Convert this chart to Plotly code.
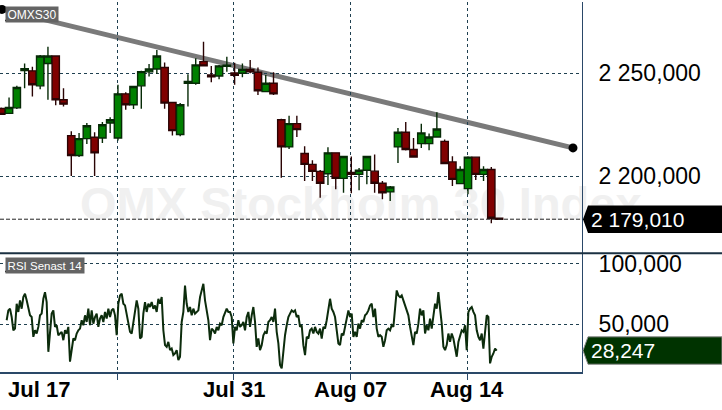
import numpy as np
import plotly.graph_objects as go

# ---------------- data ----------------
candle_idx = list(range(1, 66))
opens = [2232900, 2230500, 2233200, 2251300, 2251200, 2243900, 2254800, 2258400, 2237100, 2219700,
         2210000, 2218200, 2218900, 2218500, 2225800, 2218500, 2240000, 2234700, 2243900, 2250700,
         2252100, 2252800, 2235800, 2220200, 2245200, 2245200, 2255700, 2249200, 2248700, 2253400,
         2250200, 2250000, 2251900, 2250500, 2241100, 2245200, 2227400, 2214200, 2225500, 2211000,
         2205700, 2202300, 2201100, 2211300, 2198900, 2201800, 2200800, 2202800, 2202400, 2196500,
         2192300, 2214200, 2221300, 2212900, 2215800, 2215800, 2219000, 2216900, 2206900, 2196300,
         2193900, 2209200, 2200800, 2203200, 2179500]
highs = [2233400, 2238200, 2244000, 2254800, 2253200, 2258900, 2262900, 2258600, 2242700, 2221800,
         2221000, 2225800, 2221300, 2226300, 2228600, 2244400, 2240800, 2243600, 2251200, 2254500,
         2261300, 2255300, 2235800, 2235500, 2249500, 2257300, 2265300, 2253600, 2254100, 2258100,
         2255200, 2254800, 2256500, 2252800, 2249200, 2250500, 2227900, 2229400, 2229400, 2214500,
         2207700, 2202900, 2214000, 2211300, 2209500, 2209500, 2203900, 2209500, 2210500, 2197600,
         2195200, 2223400, 2226300, 2218500, 2225500, 2220700, 2231000, 2217800, 2209700, 2204800,
         2209700, 2209200, 2204800, 2204400, 2179600]
lows = [2229800, 2230200, 2232600, 2242700, 2238700, 2242300, 2237100, 2234400, 2233900, 2200000,
        2209300, 2215600, 2200000, 2216100, 2221000, 2217300, 2232300, 2232600, 2232800, 2248400,
        2249700, 2232800, 2219800, 2219400, 2233900, 2244400, 2253600, 2245600, 2247100, 2250800,
        2244400, 2248100, 2250000, 2239500, 2240800, 2239500, 2199200, 2213200, 2219000, 2197600,
        2197600, 2189500, 2195600, 2193600, 2191900, 2191600, 2193100, 2196000, 2191900, 2188700,
        2187900, 2206400, 2212400, 2208900, 2213700, 2212600, 2219000, 2205700, 2195200, 2196300,
        2191100, 2198100, 2197600, 2177100, 2178700]
closes = [2230000, 2233400, 2243100, 2252300, 2244400, 2258400, 2258400, 2237100, 2235000, 2210000,
          2218200, 2224500, 2211300, 2225000, 2227400, 2240000, 2234700, 2243600, 2250800, 2252100,
          2258400, 2235500, 2222100, 2234700, 2246000, 2254100, 2253600, 2248300, 2253600, 2253900,
          2249000, 2251900, 2250700, 2241500, 2245200, 2240000, 2214200, 2225500, 2222600, 2205700,
          2202300, 2196500, 2211300, 2198900, 2209500, 2200800, 2202800, 2209500, 2196500, 2191900,
          2194700, 2221300, 2212900, 2209300, 2221000, 2219000, 2222900, 2206100, 2198400, 2203200,
          2209200, 2200800, 2203200, 2179500, 2179010]

# trend line end points (candle index, price)
trend_x = [1.09, 74.5]
trend_y = [2281100, 2213700]

# RSI (14) values, sampled along the session axis
rsi = [53.3, 61.5, 62.9, 56.0, 45.0, 46.4, 67.0, 60.2, 69.8, 62.9,
       72.5, 75.3, 69.8, 64.3, 57.4, 56.0, 39.6, 45.0, 42.3, 47.8,
       57.4, 58.8, 71.1, 76.6, 68.4, 27.2, 42.3, 58.8, 61.5, 47.8,
       49.2, 40.9, 42.3, 43.7, 36.8, 45.0, 42.3, 47.8, 19.0, 28.6,
       38.2, 36.8, 42.3, 45.0, 46.4, 53.3, 49.2, 57.4, 51.9, 62.9,
       49.2, 61.5, 50.5, 56.0, 58.8, 47.8, 54.7, 57.4, 51.9, 60.2,
       54.7, 62.9, 56.0, 61.5, 62.9, 57.4, 40.9, 67.0, 73.9, 75.3,
       67.0, 65.6, 58.8, 49.2, 43.7, 42.3, 51.9, 61.5, 69.8, 62.9,
       38.2, 39.6, 58.8, 68.4, 60.2, 67.0, 64.3, 68.4, 62.9, 65.6,
       60.2, 71.1, 67.0, 72.5, 45.0, 32.7, 31.3, 35.4, 28.6, 29.9,
       24.5, 25.8, 28.6, 20.3, 23.1, 51.9, 60.2, 82.1, 67.0, 60.2,
       64.3, 57.4, 62.9, 58.8, 60.2, 61.5, 72.5, 79.4, 83.5, 69.8,
       61.5, 53.3, 36.8, 46.4, 45.0, 42.3, 47.8, 45.0, 50.5, 49.2,
       56.0, 58.8, 62.9, 60.2, 60.2, 56.0, 34.1, 47.8, 45.0, 53.3,
       47.8, 49.2, 51.9, 45.0, 56.0, 60.2, 47.8,
       57.4, 64.3, 51.9, 31.3, 38.2, 28.6, 32.7, 40.9, 43.7, 42.3,
       51.9, 53.3, 56.0, 51.9, 62.9, 43.7, 34.1, 16.2, 13.5, 28.6,
       40.9, 49.2, 56.0, 58.8, 61.5, 60.2, 61.5, 56.0, 57.4, 47.8,
       49.2, 32.7, 24.5, 39.6, 38.2, 45.0, 46.4, 42.3, 47.8, 43.7,
       42.3, 46.4, 38.2, 47.8, 46.4, 53.3, 61.5, 71.1, 62.9, 60.2,
       56.0, 42.3, 34.1, 32.7, 42.3, 40.9, 47.8, 57.4, 61.5, 56.0,
       58.8, 39.6, 43.7, 39.6, 50.5, 46.4, 53.3, 51.9, 57.4, 58.8,
       61.5, 65.6, 67.0, 56.0, 62.9, 46.4, 39.6, 40.9, 39.6, 31.3,
       36.8, 45.0, 46.4, 45.0, 49.2, 47.8, 62.9, 78.0, 73.9, 72.5,
       73.9, 69.8, 65.6, 62.9, 57.4, 47.8, 38.2, 32.7, 43.7, 42.3,
       50.5, 62.9, 57.4, 61.5, 42.3, 49.2, 45.0, 54.7, 46.4, 58.8,
       67.0, 62.9, 76.6, 62.9, 50.5, 31.3, 28.6, 32.7, 42.3, 35.4,
       42.3, 38.2, 29.9, 23.1, 35.4, 40.9, 45.0, 43.7, 49.2, 28.6,
       60.2, 62.9, 64.3, 60.2, 57.4, 45.0, 39.6, 36.8, 42.3, 29.9,
       45.0, 57.4, 56.0, 17.6, 23.1, 25.8, 29.9, 28.247]
rsi_x = 1.693 + 0.2143 * np.arange(len(rsi))

week_ticks = [15.9, 30.9, 45.9, 60.9]
week_labels = ["", "Jul 31", "Aug 07", "Aug 14"]
first_label = "Jul 17"
price_ticks = [2200000, 2250000]
price_ticktext = ["2 200,000", "2 250,000"]
rsi_ticks = [50, 100]
rsi_ticktext = ["50,000", "100,000"]

FONT = "Liberation Sans, Arial, sans-serif"
GRID = "#1f4050"
AXIS = "#2a4868"

fig = go.Figure()

fig.add_trace(go.Candlestick(
    x=candle_idx, open=opens, high=highs, low=lows, close=closes,
    increasing=dict(fillcolor="#008000", line=dict(color="#062a06", width=1.4)),
    decreasing=dict(fillcolor="#800000", line=dict(color="#2a0404", width=1.4)),
    whiskerwidth=0, hoverinfo="skip", showlegend=False, xaxis="x", yaxis="y"))

fig.add_trace(go.Scatter(
    x=trend_x, y=trend_y, mode="markers",
    marker=dict(color="black", size=9), hoverinfo="skip", showlegend=False,
    xaxis="x", yaxis="y"))

fig.add_trace(go.Scatter(
    x=rsi_x, y=rsi, mode="lines", line=dict(color="#0c2c0c", width=2),
    hoverinfo="skip", showlegend=False, xaxis="x2", yaxis="y2"))

split = 0.3207
xr = [0.836, 75.66]
fig.update_layout(
    width=722, height=410, autosize=False,
    margin=dict(l=0, r=140, t=0, b=38, pad=0),
    paper_bgcolor="white", plot_bgcolor="rgba(0,0,0,0)",
    font=dict(family=FONT, color="black"),
    boxgap=0.06, boxgroupgap=0,
    xaxis=dict(domain=[0, 1], anchor="y", range=xr, rangeslider=dict(visible=False),
               tickvals=week_ticks, showticklabels=False, ticks="",
               showgrid=True, gridcolor=GRID, griddash="dot", gridwidth=1,
               zeroline=False, showline=False),
    yaxis=dict(domain=[split, 1], anchor="x", side="right", range=[2162400, 2284700],
               tickvals=price_ticks, ticktext=price_ticktext,
               tickfont=dict(size=23, family=FONT, color="black"),
               ticks="", ticklabelstandoff=11,
               showgrid=True, gridcolor=GRID, griddash="dot", gridwidth=1,
               zeroline=False, showline=True, linecolor=AXIS, linewidth=1),
    xaxis2=dict(domain=[0, 1], anchor="y2", range=xr, matches="x",
                tickvals=week_ticks, showticklabels=False,
                ticks="outside", ticklen=6, tickcolor=AXIS, tickwidth=1,
                showgrid=True, gridcolor=GRID, griddash="dot", gridwidth=1,
                zeroline=False, showline=True, linecolor=AXIS, linewidth=1.5),
    yaxis2=dict(domain=[0, split], anchor="x2", side="right", range=[10.46, 108.73],
                tickvals=rsi_ticks, ticktext=rsi_ticktext,
                tickfont=dict(size=23, family=FONT, color="black"),
                ticks="", ticklabelstandoff=11,
                showgrid=True, gridcolor=GRID, griddash="dot", gridwidth=1,
                zeroline=False, showline=True, linecolor=AXIS, linewidth=1),
)

shapes = []
# watermark
shapes.append(dict(type="rect", xref="paper", yref="paper", x0=0.12, x1=1.12,
                   y0=(372 - 216) / 372, y1=(372 - 182) / 372,
                   line=dict(width=0), fillcolor="rgba(0,0,0,0)", layer="below",
                   label=dict(text="OMX Stockholm 30 Index", textposition="middle center",
                              font=dict(size=47, family=FONT, color="#f0f0f0", weight="bold"))))
# trend line
shapes.append(dict(type="line", xref="x", yref="y", x0=trend_x[0], y0=trend_y[0],
                   x1=trend_x[1], y1=trend_y[1], line=dict(color="#7a7a7a", width=5), layer="below"))
# last price dashed line
shapes.append(dict(type="line", xref="paper", yref="y", x0=0, x1=1, y0=closes[-1], y1=closes[-1],
                   line=dict(color="#222222", width=1, dash="4px,2px")))
# pane separator
shapes.append(dict(type="line", xref="paper", yref="paper", x0=0, x1=722 / 582, y0=split, y1=split,
                   line=dict(color="#1b3142", width=2)))
# label box shadows
shapes.append(dict(type="line", xref="paper", yref="paper", x0=5 / 582, x1=58 / 582,
                   y0=(372 - 18.5) / 372, y1=(372 - 18.5) / 372, line=dict(color="#111111", width=1.5)))
shapes.append(dict(type="line", xref="paper", yref="paper", x0=5 / 582, x1=83 / 582,
                   y0=(372 - 271) / 372, y1=(372 - 271) / 372, line=dict(color="#111111", width=1.5)))
# price tags
tag_path = "M1,0 L6,13.7 L140,13.7 L140,-13.7 L6,-13.7 Z"
shapes.append(dict(type="path", xref="paper", yref="y", xsizemode="pixel", ysizemode="pixel",
                   xanchor=1, yanchor=closes[-1], path=tag_path,
                   fillcolor="black", line=dict(width=0)))
shapes.append(dict(type="path", xref="paper", yref="y2", xsizemode="pixel", ysizemode="pixel",
                   xanchor=1, yanchor=rsi[-1], path=tag_path,
                   fillcolor="#003300", line=dict(width=1, color="#8a8a8a")))
fig.update_layout(shapes=shapes)

ann = []
ann.append(dict(xref="paper", yref="y", x=1, y=closes[-1], xanchor="left", yanchor="middle",
                xshift=7, showarrow=False,
                text=f"{closes[-1] // 1000000} {closes[-1] % 1000000 // 1000},{closes[-1] % 1000:03d}",
                font=dict(size=21, family=FONT, color="white")))
ann.append(dict(xref="paper", yref="y2", x=1, y=rsi[-1], xanchor="left", yanchor="middle",
                xshift=7, showarrow=False, text=f"{rsi[-1]:.3f}".replace(".", ","),
                font=dict(size=21, family=FONT, color="white")))
ann.append(dict(xref="paper", yref="paper", x=5 / 582, y=(372 - 4) / 372, xanchor="left", yanchor="top",
                showarrow=False, text="OMXS30", bgcolor="#646464", borderpad=1, width=50, height=13,
                font=dict(size=12, family=FONT, color="white")))
ann.append(dict(xref="paper", yref="paper", x=5 / 582, y=(372 - 256.5) / 372, xanchor="left", yanchor="top",
                showarrow=False, text="RSI Senast 14", bgcolor="#646464", borderpad=1, width=76, height=13,
                font=dict(size=11.5, family=FONT, color="white")))
label_y = (372 - 390) / 372
ann.append(dict(xref="paper", yref="paper", x=6 / 582, y=label_y, xanchor="left", yanchor="middle",
                showarrow=False, text="<b>" + first_label + "</b>",
                font=dict(size=22, family=FONT, color="black")))
for xv, lab in zip(week_ticks, week_labels):
    if lab:
        ann.append(dict(xref="x2", yref="paper", x=xv, y=label_y, xanchor="center", yanchor="middle",
                        showarrow=False, text="<b>" + lab + "</b>",
                        font=dict(size=22, family=FONT, color="black")))
fig.update_layout(annotations=ann)

fig.write_html("out.html", config={"displayModeBar": False},
               post_script="document.body.style.margin='0';")
